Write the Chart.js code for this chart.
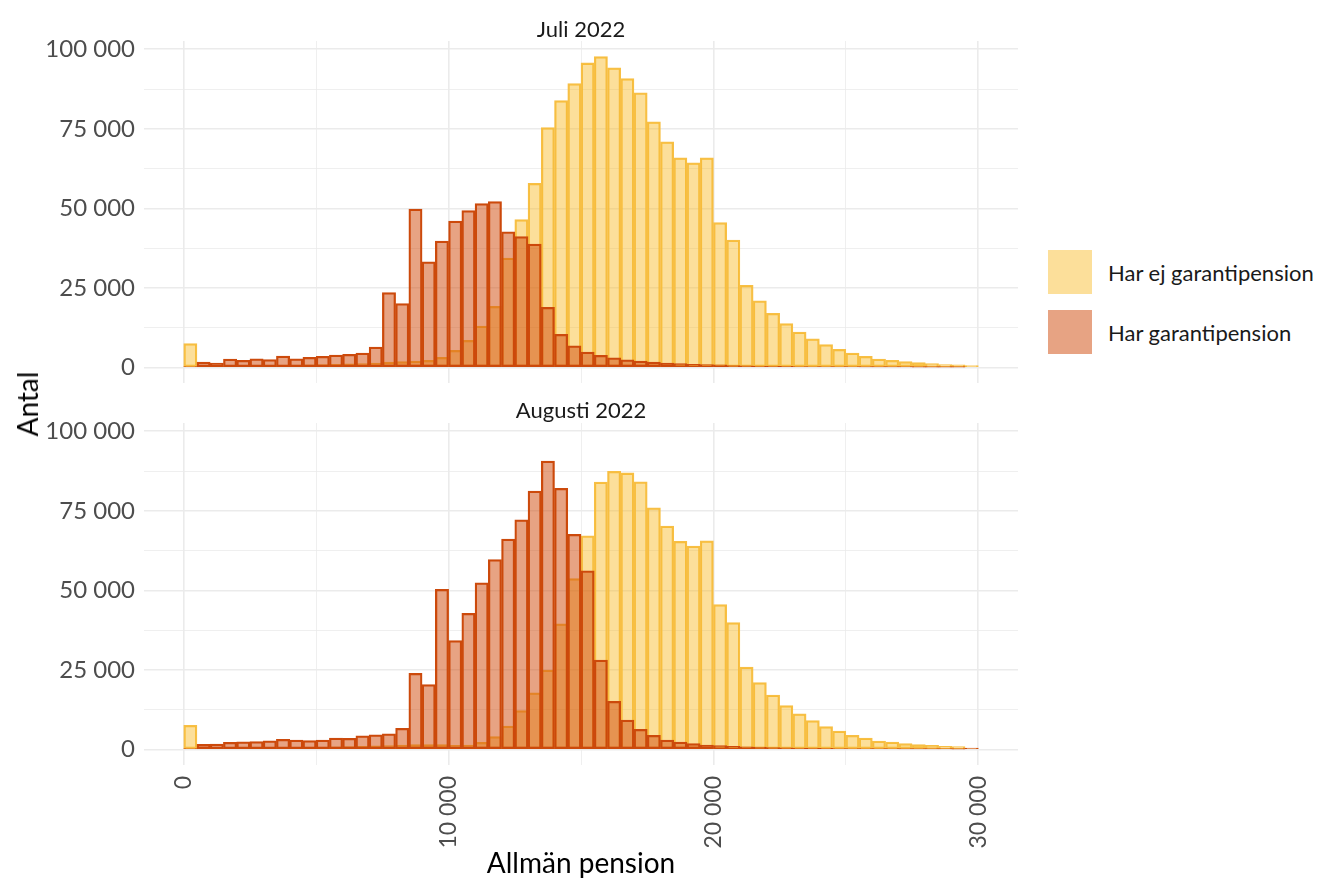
<!DOCTYPE html>
<html>
<head>
<meta charset="utf-8">
<script src="https://cdn.jsdelivr.net/npm/chart.js@4"></script>
<style>
  body{margin:0;background:#fff;font-family:Lato,sans-serif;}
  #wrap{position:relative;width:1322px;height:880px;overflow:hidden;}
  .box{position:absolute;left:0;width:1018px;}
  .lbl{position:absolute;white-space:nowrap;}
  .strip{font-size:22px;color:#1a1a1a;transform:translate(-50%,-50%);}
  .key{position:absolute;width:44px;height:44px;}
  .ktext{position:absolute;font-size:22px;color:#1a1a1a;transform:translateY(-50%);}
</style>
</head>
<body>
<div id="wrap">
  <div class="box" style="top:0;height:383px;"><canvas id="julChart"></canvas></div>
  <div class="box" style="top:400px;height:480px;"><canvas id="augChart"></canvas></div>

  <div class="lbl strip" style="left:581px;top:28px;">Juli 2022</div>
  <div class="lbl strip" style="left:581px;top:409px;">Augusti 2022</div>
  <div class="lbl" style="left:27px;top:404px;font-size:28px;transform:translate(-50%,-50%) rotate(-90deg);">Antal</div>
  <div class="lbl" style="left:581px;top:862px;font-size:28px;transform:translate(-50%,-50%);">Allmän pension</div>

  <div class="key" style="left:1048px;top:250px;background:rgba(249,185,30,0.45);"></div>
  <div class="ktext" style="left:1108px;top:272px;">Har ej garantipension</div>
  <div class="key" style="left:1048px;top:310px;background:rgba(208,72,8,0.5);"></div>
  <div class="ktext" style="left:1108px;top:332px;">Har garantipension</div>
</div>
<script>
// ==========================
// DATA (bins of 500 kr, 0 - 30 000)
// ==========================
const binWidth = 500;
const binCenters = Array.from({length:60},(_,i)=>i*binWidth+binWidth/2);

const julEjGaranti = [
  7500,300,300,400,400,500,500,700,700,800,
  900,1000,1100,1200,1400,1700,1800,2000,2200,3200,
  5400,8500,13000,19200,34400,46500,57900,75400,83900,89200,
  95700,97700,94200,90800,86300,77200,70900,65900,64300,65900,
  45500,40000,25800,20900,17000,13800,11100,9000,7200,5700,
  4500,3500,2600,2200,1800,1500,1200,900,800,600
];
const julGaranti = [
  300,1700,1400,2600,2200,2700,2500,3600,2700,3200,
  3500,3900,4100,4500,6400,23500,20100,49800,33200,39700,
  46000,49300,51500,52100,42600,41100,38800,18900,10400,6800,
  4800,3800,3000,2400,2000,1700,1400,1200,1000,900,
  800,600,500,450,400,350,300,280,250,220,
  200,180,160,140,120,100,90,80,70,0
];
const augEjGaranti = [
  7600,300,300,400,400,500,500,600,600,700,
  700,800,900,1000,1100,1200,1400,1500,1500,1500,
  1300,1400,2200,4000,7300,12200,17800,24900,39500,53700,
  67100,84000,87400,86900,84100,75900,70200,65400,63900,65600,
  45500,39900,25900,21000,17100,13800,11200,9100,7200,5800,
  4400,3600,2600,2300,1800,1500,1300,1000,900,300
];
const augGaranti = [
  300,1600,1700,2200,2400,2500,2700,3200,2900,2800,
  2900,3600,3500,4300,4600,4900,6600,23900,20400,50300,
  34200,42800,52400,59700,66100,72200,81200,90600,82100,67600,
  56100,28100,15100,9200,6300,4400,2900,2300,1800,1400,
  1200,1000,800,700,600,500,450,400,350,300,
  280,250,220,200,180,160,140,120,100,400
];

const xTicks = [0,5000,10000,15000,20000,25000,30000];
const yTicks = [0,12500,25000,37500,50000,62500,75000,87500,100000];

// ==========================
// HELPERS
// ==========================
function fmt(v){
  return String(v).replace(/\B(?=(\d{3})+(?!\d))/g,' ');
}
function toPoints(arr){
  return arr.map((v,i)=>({x:binCenters[i],y:v}));
}
const gridColor = '#EBEBEB';

function makeChart(id, ejData, garData, showX){
  return new Chart(document.getElementById(id),{
    type:'bar',
    data:{
      datasets:[
        {label:'Har ej garantipension',data:toPoints(ejData),order:1,
         backgroundColor:'rgba(249,185,30,0.45)',borderColor:'#F7BF45'},
        {label:'Har garantipension',data:toPoints(garData),order:0,
         backgroundColor:'rgba(208,72,8,0.5)',borderColor:'#CC4A0C'}
      ]
    },
    options:{
      responsive:true,
      maintainAspectRatio:false,
      animation:false,
      layout:{padding:{top: showX ? 23 : 41,right:0,bottom:0,left:0}},
      datasets:{bar:{grouped:false,barPercentage:1,categoryPercentage:1,
        borderWidth:1.6,borderSkipped:false}},
      plugins:{legend:{display:false},tooltip:{enabled:false}},
      scales:{
        x:{
          type:'linear',min:-1500,max:31500,offset:false,
          afterBuildTicks:s=>{s.ticks=xTicks.map(v=>({value:v}));},
          afterFit:s=>{s.height = showX ? 115 : 0; s.paddingLeft=0; s.paddingRight=0;},
          border:{display:false},
          grid:{drawTicks:false,offset:false,color:gridColor,
            lineWidth:c=>(c.tick && c.tick.value%10000===0)?1.6:0.8},
          ticks:{display:showX,autoSkip:false,minRotation:90,maxRotation:90,padding:11,
            color:'#4D4D4D',font:{family:'Lato',size:23},
            callback:v=>v%10000===0?fmt(v):''}
        },
        y:{
          min:-4900,max:102600,
          afterBuildTicks:s=>{s.ticks=yTicks.map(v=>({value:v}));},
          afterFit:s=>{s.width=144; s.paddingTop=0; s.paddingBottom=0;},
          border:{display:false},
          grid:{drawTicks:false,color:gridColor,
            lineWidth:c=>(c.tick && c.tick.value%25000===0)?1.6:0.8},
          ticks:{autoSkip:false,padding:9,color:'#4D4D4D',font:{family:'Lato',size:24},
            callback:v=>v%25000===0?fmt(v):''}
        }
      }
    }
  });
}

// ==========================
// INIT
// ==========================
makeChart('julChart',julEjGaranti,julGaranti,false);
makeChart('augChart',augEjGaranti,augGaranti,true);
</script>
</body>
</html>
